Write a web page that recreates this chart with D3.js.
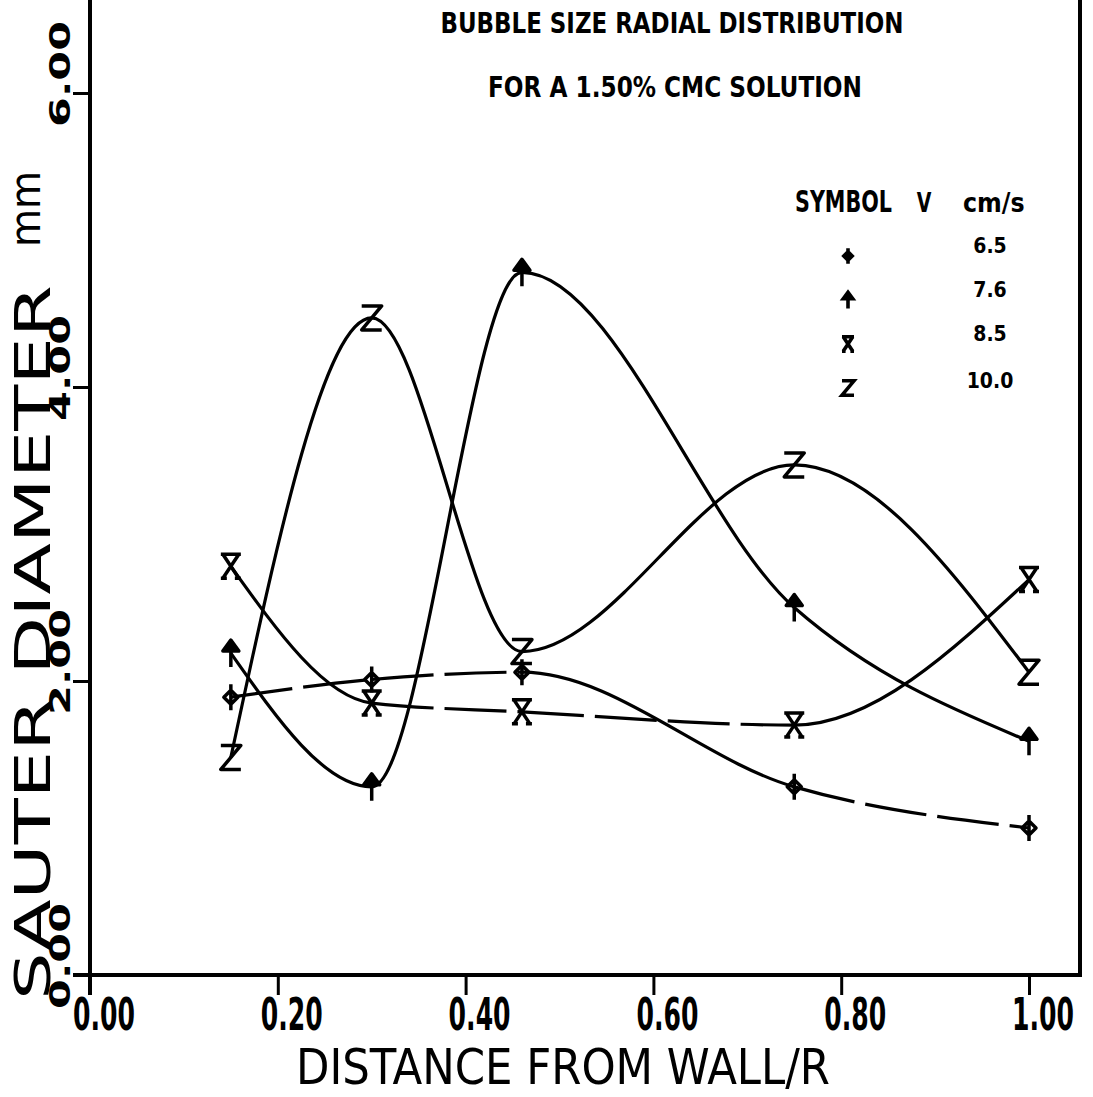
<!DOCTYPE html>
<html>
<head>
<meta charset="utf-8">
<script src="https://cdn.jsdelivr.net/npm/d3@7"></script>
<style>
  html, body { margin: 0; padding: 0; background: #fff; }
  svg { display: block; }
</style>
</head>
<body>
<svg id="chart" width="1093" height="1097"></svg>
<script>
// Radial positions of the measuring probe (distance from wall / R)
const distance = [0.15, 0.30, 0.46, 0.75, 1.00];

// Sauter mean bubble diameter (mm) for each superficial gas velocity
const diam65  = [1.89, 2.01, 2.06, 1.28, 1.00];
const diam76  = [2.19, 1.28, 4.78, 2.50, 1.59];
const diam85  = [2.78, 1.85, 1.79, 1.70, 2.69];
const diam100 = [1.48, 4.47, 2.20, 3.47, 2.06];

// Gas velocity labels (cm/s) shown in the symbol table
const velocityLabels = ["6.5", "7.6", "8.5", "10.0"];

// Axis ticks
const xTicks = [0, 0.2, 0.4, 0.6, 0.8, 1.0];
const xTickLabels = ["0.00", "0.20", "0.40", "0.60", "0.80", "1.00"];
const yTicks = [0, 2, 4, 6];
const yTickLabels = ["0.00", "2.00", "4.00", "6.00"];

// Pen style of each curve segment between neighbouring points
const segStyle65  = ["dash", "dash", "solid", "dash"];
const segStyle76  = ["solid", "solid", "solid", "solid"];
const segStyle85  = ["solid", "dash", "dash", "solid"];
const segStyle100 = ["solid", "solid", "solid", "solid"];

const ink = "#000";
const svg = d3.select("#chart");

const x = d3.scaleLinear().domain([0, 1]).range([90, 1029]);
const y = d3.scaleLinear().domain([0, 6]).range([975, 93]);
const frameRight = 1080;

const narrow = "'Liberation Sans Narrow', 'DejaVu Sans Condensed', 'Liberation Sans', sans-serif";

// ---------- frame and axes ----------
svg.append("line")
  .attr("x1", x(0)).attr("y1", 0).attr("x2", x(0)).attr("y2", y(0) + 20)
  .attr("stroke", ink).attr("stroke-width", 4);
svg.append("line")
  .attr("x1", frameRight).attr("y1", 0).attr("x2", frameRight).attr("y2", y(0))
  .attr("stroke", ink).attr("stroke-width", 4);
svg.append("line")
  .attr("x1", x(0) - 17).attr("y1", y(0)).attr("x2", frameRight + 2).attr("y2", y(0))
  .attr("stroke", ink).attr("stroke-width", 4);

const xAxis = svg.append("g")
  .attr("transform", `translate(0,${y(0)})`)
  .call(d3.axisBottom(x).tickValues(xTicks.slice(1)).tickSize(20).tickSizeOuter(0).tickFormat(""));
xAxis.select(".domain").remove();
xAxis.selectAll(".tick line").attr("stroke", ink).attr("stroke-width", 3);

const yAxis = svg.append("g")
  .attr("transform", `translate(${x(0)},0)`)
  .call(d3.axisLeft(y).tickValues(yTicks.slice(1)).tickSize(17).tickSizeOuter(0).tickFormat(""));
yAxis.select(".domain").remove();
yAxis.selectAll(".tick line").attr("stroke", ink).attr("stroke-width", 3);

// x tick labels (tall narrow plotter digits)
svg.append("g").selectAll("text")
  .data(xTicks)
  .join("text")
  .attr("transform", d => `translate(${x(d) + 14},1030) scale(1,1.5)`)
  .attr("text-anchor", "middle")
  .attr("font-family", narrow)
  .attr("font-weight", "bold")
  .attr("font-size", 30)
  .attr("textLength", 62)
  .attr("lengthAdjust", "spacingAndGlyphs")
  .attr("fill", ink)
  .text((d, i) => xTickLabels[i]);

// y tick labels, written up the page
svg.append("g").selectAll("text")
  .data(yTicks)
  .join("text")
  .attr("transform", d => `translate(70,${y(d) + 34}) rotate(-90) scale(1,0.68)`)
  .attr("font-family", "'DejaVu Sans', sans-serif")
  .attr("font-weight", "bold")
  .attr("font-size", 43)
  .attr("fill", ink)
  .text((d, i) => yTickLabels[i]);

// axis titles
svg.append("text")
  .attr("transform", "translate(563,1084) scale(1,1.3)")
  .attr("text-anchor", "middle")
  .attr("font-family", narrow)
  .attr("font-size", 38)
  .attr("textLength", 534)
  .attr("lengthAdjust", "spacingAndGlyphs")
  .attr("fill", ink)
  .text("DISTANCE FROM WALL/R");

svg.append("text")
  .attr("transform", "translate(50,1000) rotate(-90)")
  .attr("font-family", "'DejaVu Sans', sans-serif")
  .attr("font-size", 50)
  .attr("textLength", 715)
  .attr("lengthAdjust", "spacingAndGlyphs")
  .attr("fill", ink)
  .text("SAUTER DIAMETER");

svg.append("text")
  .attr("transform", "translate(40,247) rotate(-90)")
  .attr("font-family", "'DejaVu Sans', sans-serif")
  .attr("font-size", 42)
  .attr("textLength", 76)
  .attr("lengthAdjust", "spacingAndGlyphs")
  .attr("fill", ink)
  .text("mm");

// ---------- title ----------
svg.append("text")
  .attr("x", 672).attr("y", 33)
  .attr("text-anchor", "middle")
  .attr("font-family", narrow)
  .attr("font-weight", "bold")
  .attr("font-size", 28)
  .attr("textLength", 463)
  .attr("lengthAdjust", "spacingAndGlyphs")
  .attr("fill", ink)
  .text("BUBBLE SIZE RADIAL DISTRIBUTION");

svg.append("text")
  .attr("x", 675).attr("y", 97)
  .attr("text-anchor", "middle")
  .attr("font-family", narrow)
  .attr("font-weight", "bold")
  .attr("font-size", 28)
  .attr("textLength", 374)
  .attr("lengthAdjust", "spacingAndGlyphs")
  .attr("fill", ink)
  .text("FOR A 1.50% CMC SOLUTION");

// ---------- plotting symbols ----------
const symbolPaths = {
  phi:   { d: "M0,-13V13M0,-7L7,0L0,7L-7,0Z", fill: "none" },
  arrow: { d: "M0,14V-12M-8,-2L0,-13L8,-2Z", fill: ink },
  xbar:  { d: "M-10,-12H10M-8,-12L8,12M8,-12L-8,12M-10,12H-4M4,12H10", fill: "none" },
  zed:   { d: "M-10,-12H10L-10,12H10", fill: "none" }
};

const series = [
  { values: diam65,  styles: segStyle65,  symbol: "phi"   },
  { values: diam76,  styles: segStyle76,  symbol: "arrow" },
  { values: diam85,  styles: segStyle85,  symbol: "xbar"  },
  { values: diam100, styles: segStyle100, symbol: "zed"   }
];

const line = d3.line()
  .x(d => x(d[0]))
  .y(d => y(d[1]))
  .curve(d3.curveMonotoneX);

const DASH = 62, GAP = 11;

// path length at which the curve reaches a given horizontal pixel
function lengthAtX(node, px) {
  let lo = 0, hi = node.getTotalLength();
  for (let i = 0; i < 40; i++) {
    const mid = (lo + hi) / 2;
    if (node.getPointAtLength(mid).x < px) lo = mid; else hi = mid;
  }
  return (lo + hi) / 2;
}

// dash pattern that keeps some segments solid and breaks others into long dashes
function segmentDashes(node, styles) {
  const total = node.getTotalLength();
  const breaks = distance.map(v => lengthAtX(node, x(v)));
  breaks[0] = 0; breaks[breaks.length - 1] = total;
  const on = [];
  styles.forEach((s, i) => {
    const a = breaks[i], b = breaks[i + 1];
    if (s === "solid") on.push([a, b]);
    else for (let p = a; p < b; p += DASH + GAP) on.push([p, Math.min(p + DASH, b)]);
  });
  const arr = [0];
  let pos = 0;
  on.forEach(([s, e]) => { arr.push(Math.max(0, s - pos), e - s); pos = e; });
  arr.push(total - pos + 10);
  return arr.join(",");
}

const plot = svg.append("g");

series.forEach(sr => {
  const pts = distance.map((d, i) => [d, sr.values[i]]);
  const path = plot.append("path")
    .datum(pts)
    .attr("d", line)
    .attr("fill", "none")
    .attr("stroke", ink)
    .attr("stroke-width", 3.2)
    .attr("stroke-linejoin", "round");
  path.attr("stroke-dasharray", segmentDashes(path.node(), sr.styles));

  const sym = symbolPaths[sr.symbol];
  plot.append("g").selectAll("path")
    .data(pts)
    .join("path")
    .attr("transform", d => `translate(${x(d[0])},${y(d[1])})`)
    .attr("d", sym.d)
    .attr("fill", sym.fill)
    .attr("stroke", ink)
    .attr("stroke-width", 3.5)
    .attr("stroke-linejoin", "round");
});

// ---------- symbol table ----------
const legend = svg.append("g");
legend.append("text")
  .attr("transform", "translate(795,212) scale(1,1.3)")
  .attr("font-family", narrow).attr("font-weight", "bold").attr("font-size", 23)
  .attr("fill", ink).text("SYMBOL");
legend.append("text")
  .attr("transform", "translate(924,212) scale(1,1.3)").attr("text-anchor", "middle")
  .attr("font-family", narrow).attr("font-weight", "bold").attr("font-size", 21)
  .attr("fill", ink).text("V");
legend.append("text")
  .attr("transform", "translate(963,212) scale(1.1,1.1)")
  .attr("font-family", narrow).attr("font-weight", "bold").attr("font-size", 24)
  .attr("fill", ink).text("cm/s");

const legendRowY = [256, 300, 344, 388];
series.forEach((sr, i) => {
  const sym = symbolPaths[sr.symbol];
  legend.append("path")
    .attr("transform", `translate(848,${legendRowY[i]}) scale(0.6)`)
    .attr("d", sym.d)
    .attr("fill", sym.fill)
    .attr("stroke", ink)
    .attr("stroke-width", 6);
  legend.append("text")
    .attr("x", 990).attr("y", legendRowY[i] + (i === 3 ? 0 : -3))
    .attr("text-anchor", "middle")
    .attr("font-family", narrow).attr("font-weight", "bold").attr("font-size", 21)
    .attr("fill", ink)
    .text(velocityLabels[i]);
});
</script>
</body>
</html>
